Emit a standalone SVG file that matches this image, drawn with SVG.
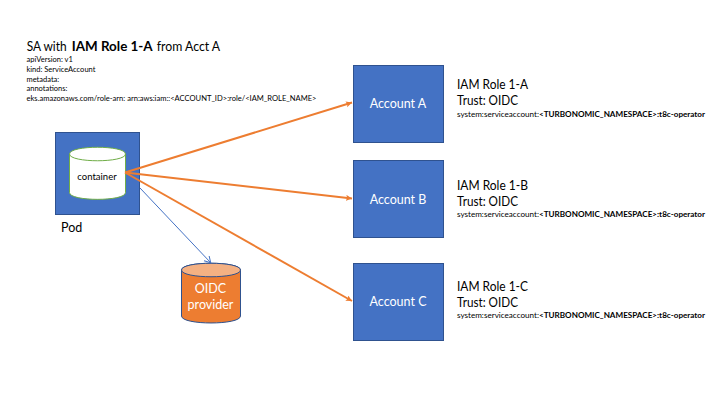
<svg xmlns="http://www.w3.org/2000/svg" width="720" height="405" viewBox="0 0 720 405">
<style>
text{font-family:Lato,"Open Sans","Liberation Sans",sans-serif;fill:#000}
.box{fill:#4472c4;stroke:#2f528f;stroke-width:1}
.lbl{font-size:12.500px;fill:#fff;text-anchor:middle}
.h{font-size:13px}
.t{font-size:14px}
.s{font-size:7.500px}
.b{font-weight:700}
.o{fill:none;stroke:#ed7d31;stroke-width:2}
</style>
<defs>
<marker id="ao" markerWidth="7" markerHeight="7" refX="6" refY="3" orient="auto" markerUnits="userSpaceOnUse"><path d="M0 0L6 3L0 6L1.2 3Z" fill="#ed7d31"/></marker>
<marker id="ab" markerWidth="9" markerHeight="9" refX="7" refY="4" orient="auto" markerUnits="userSpaceOnUse"><path d="M1 0.500L7 4L1 7.500" fill="none" stroke="#4472c4" stroke-width="1"/></marker>
</defs>
<g id="title">
<text class="t" x="26.700" y="50.500" textLength="40" lengthAdjust="spacingAndGlyphs">SA with</text>
<text class="t b" x="71.700" y="50.500" textLength="81" lengthAdjust="spacingAndGlyphs">IAM Role 1-A</text>
<text class="t" x="156.700" y="50.500" textLength="63.500" lengthAdjust="spacingAndGlyphs">from Acct A</text>
<g class="s">
<text x="26.500" y="62">apiVersion: v1</text>
<text x="26.500" y="71.500">kind: ServiceAccount</text>
<text x="26.500" y="81.500">metadata:</text>
<text x="26.500" y="91">annotations:</text>
<text x="26.500" y="100.700" textLength="290" lengthAdjust="spacingAndGlyphs">eks.amazonaws.com/role-arn: arn:aws:iam::&lt;ACCOUNT_ID&gt;:role/&lt;IAM_ROLE_NAME&gt;</text>
</g>
</g>
<g id="pod">
<rect class="box" x="55.500" y="132.500" width="84" height="82"/>
<text x="61" y="231.700" font-size="12.500">Pod</text>
</g>
<g id="container">
<path d="M69.500 154C69.500 145 125.500 145 125.500 154V192.600C125.500 201.600 69.500 201.600 69.500 192.600Z" fill="#fff" stroke="#70ad47"/>
<path d="M69.500 154C69.500 163 125.500 163 125.500 154" fill="none" stroke="#70ad47"/>
<text x="97" y="180" font-size="9.500" text-anchor="middle">container</text>
</g>
<g id="oidc-provider">
<path d="M181.500 270C181.500 261 240.500 261 240.500 270V316C240.500 325.300 181.500 325.300 181.500 316Z" fill="#ed7d31" stroke="#2f528f"/>
<path d="M181.500 270C181.500 261 240.500 261 240.500 270C240.500 279 181.500 279 181.500 270Z" fill="#f4b183" stroke="#2f528f"/>
<text class="lbl" x="210.500" y="293">OIDC</text>
<text class="lbl" x="210.500" y="309">provider</text>
</g>
<g id="account-a">
<rect class="box" x="353.500" y="65.500" width="90" height="77"/>
<text class="lbl" x="398" y="108">Account A</text>
</g>
<g id="account-b">
<rect class="box" x="353.500" y="160.500" width="90" height="77"/>
<text class="lbl" x="398" y="204">Account B</text>
</g>
<g id="account-c">
<rect class="box" x="353.500" y="263.500" width="90" height="77"/>
<text class="lbl" x="398" y="306">Account C</text>
</g>
<g id="role-a">
<text class="h" x="457" y="89" textLength="71" lengthAdjust="spacingAndGlyphs">IAM Role 1-A</text>
<text class="h" x="457" y="105" textLength="61" lengthAdjust="spacingAndGlyphs">Trust: OIDC</text>
<text class="s" x="457" y="117" textLength="248" lengthAdjust="spacingAndGlyphs">system:serviceaccount:<tspan class="b">&lt;TURBONOMIC_NAMESPACE&gt;:t8c-operator</tspan></text>
</g>
<g id="role-b">
<text class="h" x="457" y="190" textLength="71" lengthAdjust="spacingAndGlyphs">IAM Role 1-B</text>
<text class="h" x="457" y="206" textLength="61" lengthAdjust="spacingAndGlyphs">Trust: OIDC</text>
<text class="s" x="457" y="217" textLength="248" lengthAdjust="spacingAndGlyphs">system:serviceaccount:<tspan class="b">&lt;TURBONOMIC_NAMESPACE&gt;:t8c-operator</tspan></text>
</g>
<g id="role-c">
<text class="h" x="457" y="291" textLength="71" lengthAdjust="spacingAndGlyphs">IAM Role 1-C</text>
<text class="h" x="457" y="307" textLength="61" lengthAdjust="spacingAndGlyphs">Trust: OIDC</text>
<text class="s" x="457" y="318" textLength="248" lengthAdjust="spacingAndGlyphs">system:serviceaccount:<tspan class="b">&lt;TURBONOMIC_NAMESPACE&gt;:t8c-operator</tspan></text>
</g>
<g id="connectors">
<line class="o" x1="125" y1="172.500" x2="352" y2="102.500" marker-end="url(#ao)"/>
<line class="o" x1="125" y1="172.500" x2="352" y2="198.500" marker-end="url(#ao)"/>
<line class="o" x1="125" y1="172.500" x2="352" y2="301" marker-end="url(#ao)"/>
<line x1="140" y1="188" x2="210.700" y2="262.700" stroke="#4472c4" stroke-width="1" marker-end="url(#ab)"/>
</g>
</svg>
